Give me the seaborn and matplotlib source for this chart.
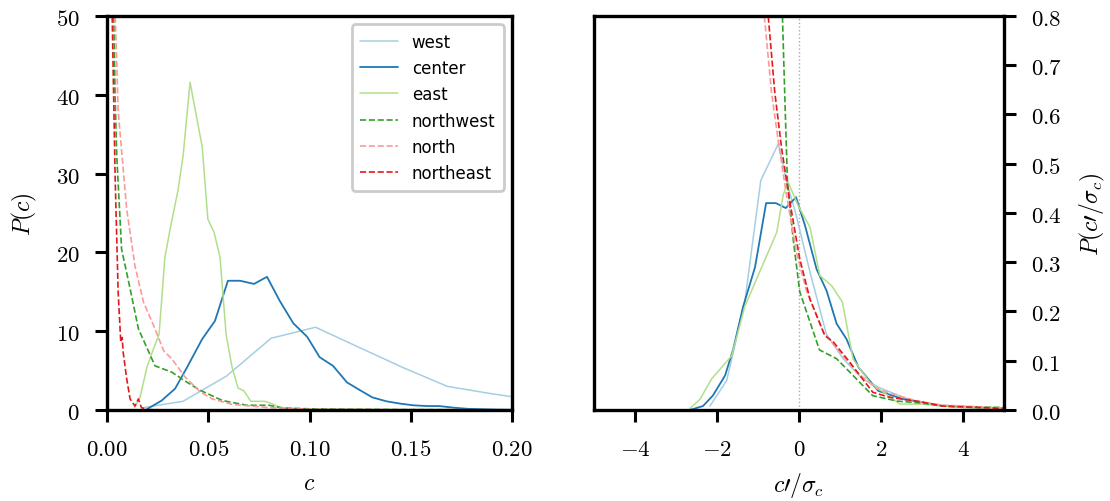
import matplotlib
matplotlib.use("Agg")
import matplotlib.pyplot as plt
import seaborn as sns
import pandas as pd
from matplotlib.ticker import FuncFormatter

# ---------------- data: left panel, P(c) ----------------
west_c = [0.018, 0.0375, 0.059, 0.081, 0.103, 0.124, 0.146, 0.168, 0.189, 0.21]
west_p = [0.3, 1.1, 4.3, 9.1, 10.5, 8.0, 5.4, 3.0, 2.1, 1.3]

center_c = [0.0197, 0.027, 0.0336, 0.0395, 0.047, 0.0533, 0.0597, 0.0657, 0.0726, 0.079,
            0.0854, 0.092, 0.0988, 0.105, 0.1116, 0.1185, 0.125, 0.131, 0.138, 0.145,
            0.151, 0.158, 0.164, 0.171, 0.178, 0.185, 0.192, 0.2]
center_p = [0.1, 1.2, 2.7, 5.4, 9.0, 11.3, 16.4, 16.4, 16.0, 16.9,
            13.8, 11.0, 9.3, 6.7, 5.6, 3.5, 2.5, 1.6, 1.1, 0.8,
            0.6, 0.5, 0.5, 0.3, 0.15, 0.1, 0.05, 0.03]

east_c = [0.0135, 0.0163, 0.0197, 0.0227, 0.0257, 0.0286, 0.0318, 0.035, 0.0376, 0.041,
          0.044, 0.047, 0.0498, 0.0528, 0.0558, 0.0588, 0.0617, 0.0647, 0.0677, 0.071,
          0.0745, 0.078, 0.0815, 0.0854, 0.09, 0.1, 0.12, 0.15, 0.2]
east_p = [0.3, 1.6, 5.4, 7.6, 9.6, 19.4, 23.8, 27.8, 32.3, 41.6,
          37.5, 33.4, 24.2, 22.6, 19.4, 9.6, 5.5, 2.8, 2.4, 1.1,
          1.1, 1.1, 0.8, 0.3, 0.2, 0.1, 0.05, 0.02, 0.01]

northwest_c = [0.003, 0.004, 0.0048, 0.0072, 0.0114, 0.0155, 0.0237, 0.032, 0.039, 0.046,
               0.057, 0.069, 0.080, 0.087, 0.1, 0.12, 0.15, 0.2]
northwest_p = [55, 39.8, 32.3, 20.4, 15.4, 10.3, 5.6, 4.8, 3.6, 2.5,
               1.2, 0.6, 0.6, 0.25, 0.15, 0.1, 0.05, 0.02]

north_c = [0.0035, 0.0055, 0.0097, 0.0138, 0.018, 0.0237, 0.028, 0.032, 0.0385, 0.046,
           0.052, 0.062, 0.08, 0.1, 0.15, 0.2]
north_p = [55, 38, 25.5, 18.3, 13.7, 10.3, 7.5, 6.5, 4.2, 2.3,
           1.4, 0.7, 0.3, 0.1, 0.05, 0.02]

northeast_c = [0.0022, 0.004, 0.0055, 0.0068, 0.0075, 0.008, 0.0097, 0.0114, 0.0138, 0.0155,
               0.017, 0.02, 0.03]
northeast_p = [55, 29.7, 15, 8.6, 9.2, 7.3, 4.0, 1.4, 0.5, 1.4,
               0.3, 0.05, 0.0]

# ---------------- data: right panel, P(c'/sigma_c) ----------------
west_z = [-2.17, -1.76, -1.32, -0.93, -0.5, -0.3, -0.08, 0.27, 0.67, 1.08, 1.55, 1.97, 2.6, 3.0, 3.8, 5.0]
west_zp = [0.008, 0.06, 0.219, 0.466, 0.541, 0.463, 0.40, 0.28, 0.154, 0.104, 0.063, 0.045, 0.024, 0.015, 0.006, 0.002]

center_z = [-2.66, -2.34, -2.1, -1.8, -1.6, -1.36, -1.07, -0.8, -0.56, -0.32, -0.07, 0.15,
            0.43, 0.675, 0.92, 1.16, 1.45, 1.93, 2.54, 3.0, 3.5, 5.0]
center_zp = [0.0, 0.008, 0.029, 0.07, 0.124, 0.21, 0.29, 0.42, 0.42, 0.41, 0.432, 0.374,
             0.286, 0.242, 0.175, 0.144, 0.087, 0.039, 0.022, 0.016, 0.008, 0.003]

east_z = [-2.66, -2.41, -2.13, -1.64, -1.32, -0.54, -0.38, -0.26, -0.02, 0.27, 0.51, 0.8,
          1.06, 1.32, 1.73, 2.46, 3.0, 4.0, 5.0]
east_zp = [0.003, 0.022, 0.063, 0.11, 0.21, 0.361, 0.438, 0.462, 0.415, 0.371, 0.273, 0.252,
           0.219, 0.103, 0.056, 0.012, 0.012, 0.005, 0.003]

northwest_z = [-0.42, -0.34, -0.28, -0.14, 0.02, 0.5, 0.92, 1.32, 1.8, 2.4, 3.0, 3.5, 5.0]
northwest_zp = [0.85, 0.625, 0.463, 0.347, 0.24, 0.122, 0.104, 0.07, 0.029, 0.018, 0.014, 0.008, 0.005]

north_z = [-0.9, -0.67, -0.5, -0.3, -0.06, 0.19, 0.6, 1.0, 1.41, 1.9, 2.5, 3.0, 3.5, 5.0]
north_zp = [0.85, 0.646, 0.544, 0.435, 0.32, 0.24, 0.158, 0.117, 0.077, 0.043, 0.027, 0.016, 0.01, 0.004]

northeast_z = [-0.8, -0.59, -0.42, -0.22, 0.02, 0.27, 0.63, 0.84, 1.24, 1.8, 2.2, 2.7, 3.0, 3.5, 5.0]
northeast_zp = [0.85, 0.646, 0.53, 0.422, 0.307, 0.225, 0.151, 0.138, 0.097, 0.036, 0.026, 0.02, 0.016, 0.008, 0.003]

names = ["west", "center", "east", "northwest", "north", "northeast"]
colors = ["#a6cee3", "#1f78b4", "#b2df8a", "#33a02c", "#fb9a99", "#e31a1c"]
styles = ["-", "-", "-", "--", "--", "--"]
widths = [1.1, 1.3, 1.1, 1.2, 1.2, 1.2]

left_data = [(west_c, west_p), (center_c, center_p), (east_c, east_p),
             (northwest_c, northwest_p), (north_c, north_p), (northeast_c, northeast_p)]
right_data = [(west_z, west_zp), (center_z, center_zp), (east_z, east_zp),
              (northwest_z, northwest_zp), (north_z, north_zp), (northeast_z, northeast_zp)]

x_ticks_left = [0.00, 0.05, 0.10, 0.15, 0.20]
y_ticks_left = [0, 10, 20, 30, 40, 50]
x_ticks_right = [-4, -2, 0, 2, 4]
y_ticks_right = [0.0, 0.1, 0.2, 0.3, 0.4, 0.5, 0.6, 0.7, 0.8]

# ---------------- style ----------------
sns.set_style("ticks")
plt.rcParams["font.family"] = ["DejaVu Sans"]
plt.rcParams["mathtext.fontset"] = "cm"
for k in ["axes.edgecolor", "xtick.color", "ytick.color", "text.color", "axes.labelcolor"]:
    plt.rcParams[k] = "black"

fig = plt.figure(figsize=(11.1, 5.02), dpi=100)
ax1 = fig.add_axes([0.0964, 0.1813, 0.3649, 0.7849])
ax2 = fig.add_axes([0.535, 0.1813, 0.3695, 0.7849])

for (xs, ys), name, col, ls, lw in zip(left_data, names, colors, styles, widths):
    df = pd.DataFrame({"x": xs, "y": ys})
    sns.lineplot(data=df, x="x", y="y", ax=ax1, color=col, linestyle=ls,
                 linewidth=lw, label=name, estimator=None, sort=False)

for (xs, ys), name, col, ls, lw in zip(right_data, names, colors, styles, widths):
    df = pd.DataFrame({"x": xs, "y": ys})
    sns.lineplot(data=df, x="x", y="y", ax=ax2, color=col, linestyle=ls,
                 linewidth=lw, estimator=None, sort=False, legend=False)

ax2.axvline(0, color="#aaaaaa", linestyle=":", linewidth=1.0, zorder=0)

ax1.set_xlim(0, 0.2)
ax1.set_ylim(0, 50)
ax2.set_xlim(-5, 5)
ax2.set_ylim(0, 0.8)

ax1.set_xticks(x_ticks_left)
ax1.set_yticks(y_ticks_left)
ax2.set_xticks(x_ticks_right)
ax2.set_yticks(y_ticks_right)

ax1.xaxis.set_major_formatter(FuncFormatter(lambda v, p: f"${v:.2f}$"))
ax1.yaxis.set_major_formatter(FuncFormatter(lambda v, p: f"${v:.0f}$"))
ax2.xaxis.set_major_formatter(FuncFormatter(lambda v, p: f"${v:.0f}$"))
ax2.yaxis.set_major_formatter(FuncFormatter(lambda v, p: f"${v:.1f}$"))

ax2.yaxis.tick_right()
ax2.yaxis.set_label_position("right")

for ax in (ax1, ax2):
    for s in ax.spines.values():
        s.set_linewidth(2.4)
        s.set_color("black")
        s.set_visible(True)
    ax.tick_params(width=2.2, length=8.6, labelsize=16.5, pad=11, direction="out", colors="black")

ax1.set_xlabel(r"$c$", fontsize=17, labelpad=7)
ax1.set_ylabel(r"$P(c)$", fontsize=17, labelpad=12)
ax2.set_xlabel(r"$c\prime/\sigma_c$", fontsize=17, labelpad=7)
ax2.set_ylabel(r"$P(c\prime/\sigma_c)$", fontsize=17, labelpad=11)

leg = ax1.legend(loc="upper right", fontsize=12, frameon=True, fancybox=True,
                 framealpha=1.0, handlelength=2.3, borderpad=0.5)
leg.get_frame().set_edgecolor("#cccccc")
leg.get_frame().set_linewidth(2.0)
for t in leg.get_texts():
    t.set_color("black")

fig.savefig("out.png", dpi=100)
